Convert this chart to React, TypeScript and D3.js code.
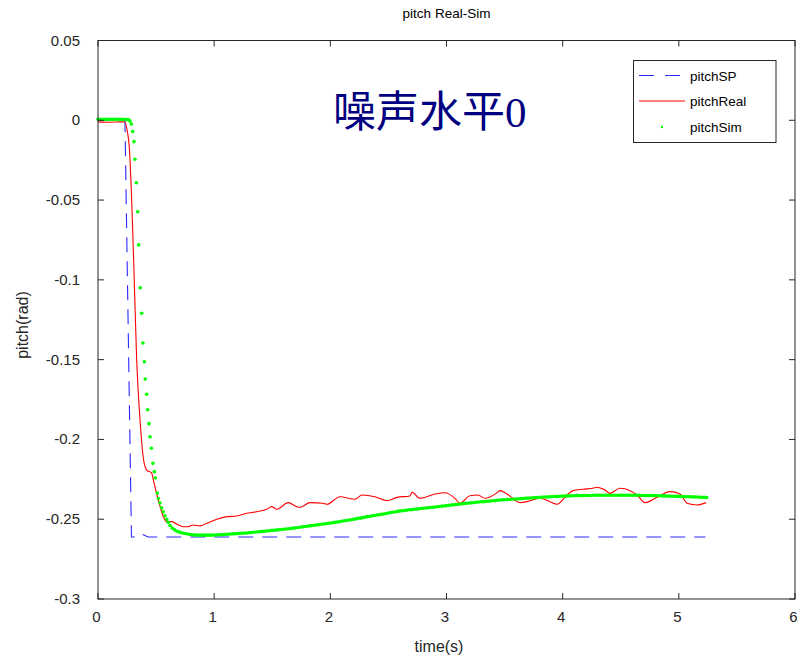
import React from "react";
import * as d3 from "d3";

// ---- data ----
const xTicks = [0, 1, 2, 3, 4, 5, 6];
const yTicks = [-0.3, -0.25, -0.2, -0.15, -0.1, -0.05, 0, 0.05];
const yTickLabels = ["-0.3", "-0.25", "-0.2", "-0.15", "-0.1", "-0.05", "0", "0.05"];

// pitchSP (set point)
const spTime = [0, 0.232, 0.288, 0.333, 0.376, 0.43, 5.23];
const spValue = [0, 0, -0.2611, -0.2611, -0.2592, -0.2611, -0.2611];

// pitchReal
const realTime = [
  0, 0.1, 0.2, 0.232, 0.25, 0.269, 0.29, 0.312, 0.333, 0.362, 0.39, 0.419, 0.462, 0.476,
  0.519, 0.562, 0.591, 0.634, 0.677, 0.734, 0.777, 0.82, 0.878, 0.936, 1.022, 1.108,
  1.194, 1.28, 1.366, 1.452, 1.495, 1.538, 1.638, 1.71, 1.739, 1.825, 1.937, 1.971,
  2.083, 2.212, 2.273, 2.384, 2.488, 2.574, 2.686, 2.703, 2.772, 2.901, 2.987, 3.073,
  3.116, 3.202, 3.271, 3.331, 3.374, 3.435, 3.46, 3.521, 3.633, 3.693, 3.805, 3.891,
  3.951, 4.037, 4.089, 4.175, 4.261, 4.295, 4.364, 4.407, 4.493, 4.58, 4.64, 4.709,
  4.812, 4.924, 5.01, 5.071, 5.157, 5.234,
];
const realValue = [
  -0.001, -0.0012, -0.001, -0.0011, -0.006, -0.0165, -0.0499, -0.1001, -0.1502, -0.1878,
  -0.2116, -0.2192, -0.221, -0.2254, -0.2379, -0.2484, -0.2515, -0.2515, -0.253, -0.2547,
  -0.2547, -0.2536, -0.2542, -0.2526, -0.25, -0.2484, -0.248, -0.2463, -0.2453, -0.2438,
  -0.2421, -0.2438, -0.2396, -0.2421, -0.2425, -0.2396, -0.24, -0.2406, -0.2359, -0.2375,
  -0.2348, -0.2359, -0.2384, -0.2363, -0.2354, -0.2331, -0.2369, -0.2342, -0.2334,
  -0.2369, -0.24, -0.2353, -0.2348, -0.2369, -0.2361, -0.2334, -0.2321, -0.2342, -0.2396,
  -0.239, -0.2369, -0.239, -0.2406, -0.2348, -0.2321, -0.2312, -0.2306, -0.23, -0.2317,
  -0.2338, -0.2306, -0.2321, -0.2348, -0.2396, -0.2363, -0.2327, -0.2342, -0.24, -0.2411,
  -0.2396,
];

// pitchSim: head + drop (explicit times), tail sampled every 0.02 s from 0.64 s
const simHeadTime = [0, 0.02, 0.04, 0.06, 0.08, 0.1, 0.12, 0.14, 0.16, 0.18, 0.2, 0.22, 0.24];
const simHeadValue = [0.0006, 0.0006, 0.0006, 0.0006, 0.0006, 0.0006, 0.0006, 0.0006, 0.0006, 0.0006, 0.0006, 0.0006, 0.0005];
const simDropTime = [
  0.25, 0.261, 0.275, 0.287, 0.298, 0.31, 0.318, 0.33, 0.342, 0.35, 0.364, 0.376, 0.387,
  0.399, 0.407, 0.419, 0.428, 0.439, 0.448, 0.459, 0.473, 0.485, 0.493, 0.51, 0.52, 0.534,
  0.548, 0.562, 0.576, 0.591, 0.605, 0.62,
];
const simDropValue = [
  0.0005, 0.0004, -0.0004, -0.0023, -0.007, -0.0134, -0.0244, -0.0391, -0.0573, -0.0781,
  -0.1049, -0.1209, -0.1396, -0.1513, -0.1621, -0.1717, -0.1814, -0.1901, -0.1983,
  -0.2055, -0.215, -0.2202, -0.2242, -0.2336, -0.237, -0.2398, -0.2428, -0.2453, -0.2478,
  -0.25, -0.252, -0.254,
];
const simTailStart = 0.64;
const simTailStep = 0.02;
const simTailValue = [
  -0.2556, -0.2567, -0.2575, -0.2581, -0.2585, -0.2588, -0.2591, -0.2594, -0.2596, -0.2598,
  -0.2599, -0.26, -0.26, -0.26, -0.26, -0.26, -0.26, -0.26, -0.2599, -0.2599,
  -0.2598, -0.2597, -0.2596, -0.2595, -0.2594, -0.2593, -0.2592, -0.2591, -0.259, -0.2589,
  -0.2588, -0.2587, -0.2586, -0.2585, -0.2583, -0.2582, -0.258, -0.2579, -0.2578, -0.2576,
  -0.2575, -0.2573, -0.2572, -0.257, -0.2569, -0.2567, -0.2566, -0.2564, -0.2563, -0.2561,
  -0.256, -0.2558, -0.2556, -0.2554, -0.2552, -0.255, -0.2548, -0.2546, -0.2544, -0.2542,
  -0.254, -0.2538, -0.2536, -0.2534, -0.2532, -0.253, -0.2528, -0.2526, -0.2524, -0.2522,
  -0.252, -0.2518, -0.2515, -0.2513, -0.251, -0.2508, -0.2505, -0.2503, -0.25, -0.2498,
  -0.2495, -0.2493, -0.249, -0.2487, -0.2484, -0.2482, -0.2479, -0.2477, -0.2474, -0.2472,
  -0.2469, -0.2467, -0.2464, -0.2461, -0.2458, -0.2456, -0.2453, -0.2451, -0.2448, -0.2447,
  -0.2445, -0.2443, -0.2441, -0.244, -0.2438, -0.2437, -0.2435, -0.2433, -0.2431, -0.243,
  -0.2428, -0.2427, -0.2425, -0.2424, -0.2422, -0.242, -0.2418, -0.2417, -0.2415, -0.2413,
  -0.2411, -0.241, -0.2408, -0.2407, -0.2405, -0.2403, -0.2401, -0.24, -0.2398, -0.2397,
  -0.2395, -0.2394, -0.2392, -0.2391, -0.239, -0.2388, -0.2387, -0.2386, -0.2384, -0.2383,
  -0.2381, -0.238, -0.2379, -0.2378, -0.2377, -0.2376, -0.2375, -0.2374, -0.2373, -0.2372,
  -0.2371, -0.237, -0.2369, -0.2368, -0.2367, -0.2366, -0.2365, -0.2364, -0.2363, -0.2362,
  -0.2361, -0.2361, -0.236, -0.2359, -0.2358, -0.2358, -0.2357, -0.2356, -0.2355, -0.2355,
  -0.2354, -0.2354, -0.2353, -0.2353, -0.2352, -0.2352, -0.2352, -0.2351, -0.2351, -0.2351,
  -0.2351, -0.235, -0.235, -0.235, -0.235, -0.235, -0.235, -0.235, -0.235, -0.235,
  -0.235, -0.235, -0.235, -0.235, -0.235, -0.235, -0.235, -0.235, -0.235, -0.235,
  -0.235, -0.235, -0.2351, -0.2351, -0.2351, -0.2351, -0.2352, -0.2352, -0.2352, -0.2353,
  -0.2353, -0.2354, -0.2354, -0.2355, -0.2355, -0.2356, -0.2356, -0.2357, -0.2357, -0.2358,
  -0.2358, -0.2359, -0.2359, -0.236, -0.236, -0.2361, -0.2361, -0.2362, -0.2363, -0.2363,
  -0.2364,
];

const seriesNames = ["pitchSP", "pitchReal", "pitchSim"];
const titleText = "pitch Real-Sim";
const xLabel = "time(s)";
const yLabel = "pitch(rad)";
const noteCn = "噪声水平";
const noteNum = "0";

// ---- layout ----
const W = 797;
const H = 657;
const PL = 98;
const PR = 795;
const PT = 40.5;
const PB = 599;
const FONT = "'Liberation Sans', Arial, Helvetica, sans-serif";
const AX = "#262626";

export default function App() {
  const x = d3.scaleLinear().domain([0, 6]).range([PL, PR]);
  const y = d3.scaleLinear().domain([-0.3, 0.05]).range([PB, PT]);

  const sp = spTime.map((t, i) => [t, spValue[i]] as [number, number]);
  const real = realTime.map((t, i) => [t, realValue[i]] as [number, number]);
  const sim: [number, number][] = [
    ...simHeadTime.map((t, i) => [t, simHeadValue[i]] as [number, number]),
    ...simDropTime.map((t, i) => [t, simDropValue[i]] as [number, number]),
    ...simTailValue.map((v, i) => [simTailStart + i * simTailStep, v] as [number, number]),
  ];

  const lineLin = d3
    .line<[number, number]>()
    .x((d) => x(d[0]))
    .y((d) => y(d[1]));
  const lineSmooth = d3
    .line<[number, number]>()
    .x((d) => x(d[0]))
    .y((d) => y(d[1]))
    .curve(d3.curveMonotoneX);

  const tickLen = 6;
  const lx = 633.5;
  const ly = 60.5;
  const lw = 142.5;
  const lh = 82;
  const legendY = [75.5, 101, 127];

  return (
    <svg
      width={W}
      height={H}
      style={{ position: "absolute", left: 0, top: 0, display: "block", background: "#fff" }}
      fontFamily={FONT}
    >
      <rect x={0} y={0} width={W} height={H} fill="#fff" />
      {/* title */}
      <text x={(PL + PR) / 2} y={18} textAnchor="middle" fontSize={13.5} fill="#000">
        {titleText}
      </text>

      {/* series */}
      <path d={lineLin(sp) || ""} fill="none" stroke="#2a2aff" strokeWidth={1.1} strokeDasharray="15 9" />
      <path d={lineSmooth(real) || ""} fill="none" stroke="#ff0000" strokeWidth={1.1} />
      <g fill="#00ff00">
        {sim.map((d, i) => (
          <circle key={i} cx={x(d[0])} cy={y(d[1])} r={1.8} />
        ))}
      </g>

      {/* axes box */}
      <rect x={PL} y={PT} width={PR - PL} height={PB - PT} fill="none" stroke={AX} strokeWidth={1} />
      {xTicks.map((t) => (
        <g key={"x" + t}>
          <line x1={x(t)} x2={x(t)} y1={PB} y2={PB - tickLen} stroke={AX} />
          <line x1={x(t)} x2={x(t)} y1={PT} y2={PT + tickLen} stroke={AX} />
          <text x={x(t) - 1.5} y={622} textAnchor="middle" fontSize={15} fill="#262626">
            {t}
          </text>
        </g>
      ))}
      {yTicks.map((t, i) => (
        <g key={"y" + i}>
          <line x1={PL} x2={PL + tickLen} y1={y(t)} y2={y(t)} stroke={AX} />
          <line x1={PR} x2={PR - tickLen} y1={y(t)} y2={y(t)} stroke={AX} />
          <text x={80} y={y(t) + 5} textAnchor="end" fontSize={15} fill="#262626">
            {yTickLabels[i]}
          </text>
        </g>
      ))}
      <text x={439} y={652} textAnchor="middle" fontSize={16} fill="#262626">
        {xLabel}
      </text>
      <text
        transform={`translate(28, 325) rotate(-90)`}
        textAnchor="middle"
        fontSize={16}
        fill="#262626"
      >
        {yLabel}
      </text>

      {/* annotation */}
      <text x={333} y={127} fontSize={43} fill="#000080">
        <tspan fontFamily="'Noto Sans CJK SC', sans-serif">{noteCn}</tspan>
        <tspan fontFamily="'Liberation Serif', 'Times New Roman', serif">{noteNum}</tspan>
      </text>

      {/* legend */}
      <rect x={lx} y={ly} width={lw} height={lh} fill="#fff" stroke={AX} strokeWidth={1} />
      <line x1={639} x2={685} y1={legendY[0]} y2={legendY[0]} stroke="#2a2aff" strokeWidth={1.1} strokeDasharray="15 11" />
      <line x1={639} x2={685} y1={legendY[1]} y2={legendY[1]} stroke="#ff0000" strokeWidth={1.1} />
      <circle cx={662} cy={legendY[2]} r={1.2} fill="#00ff00" />
      {seriesNames.map((n, i) => (
        <text key={n} x={690} y={legendY[i] + 5} fontSize={13.5} fill="#000">
          {n}
        </text>
      ))}
    </svg>
  );
}
